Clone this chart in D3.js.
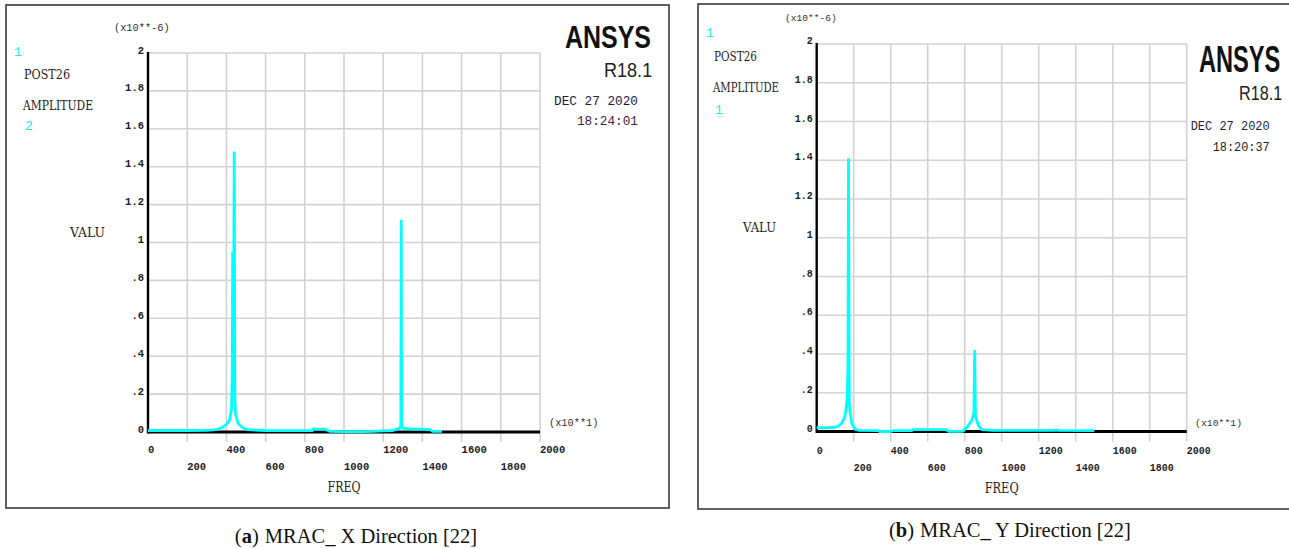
<!DOCTYPE html>
<html>
<head>
<meta charset="utf-8">
<script src="https://cdn.jsdelivr.net/npm/d3@7"></script>
<style>
  body { margin: 0; background: #fff; }
  svg { display: block; }
</style>
</head>
<body>
<svg id="fig" width="1289" height="549"></svg>
<script>
// Frequency in units of 10 Hz (x10**1), amplitude in units of 1e-6 (x10**-6)
const freqTicks = [0, 200, 400, 600, 800, 1000, 1200, 1400, 1600, 1800, 2000];
const freqTickLabels = ["0", "200", "400", "600", "800", "1000", "1200", "1400", "1600", "1800", "2000"];
const ampTicks = [0, 0.2, 0.4, 0.6, 0.8, 1, 1.2, 1.4, 1.6, 1.8, 2];
const ampTickLabels = ["0", ".2", ".4", ".6", ".8", "1", "1.2", "1.4", "1.6", "1.8", "2"];

// MRAC X direction response
const freqX = [0, 100, 200, 300, 350, 380, 400, 415, 426, 430, 432, 436, 440, 443, 447, 460, 480, 505,
               600, 700, 800, 840, 845, 850, 900, 930, 1000, 1100, 1148, 1200, 1250, 1270, 1286, 1290,
               1292, 1294, 1298, 1350, 1400, 1440, 1450, 1500];
const ampX  = [0.008, 0.008, 0.008, 0.009, 0.012, 0.025, 0.04, 0.06, 0.12, 0.3, 0.95, 0.4, 1.48, 0.18, 0.09, 0.045, 0.025, 0.012,
               0.008, 0.007, 0.007, 0.008, 0.02, 0.015, 0.015, 0.003, 0.002, 0.002, 0.003, 0.006, 0.008, 0.015, 0.02, 0.04,
               1.12, 0.04, 0.02, 0.015, 0.015, 0.012, 0.004, 0.003];

// MRAC Y direction response
const freqY = [0, 50, 100, 120, 135, 150, 160, 166, 169, 172, 176, 180, 190, 207, 230, 330, 340, 400, 414,
               515, 520, 700, 711, 790, 818, 840, 850, 854, 858, 874, 892, 950, 1290, 1294, 1298, 1500];
const ampY  = [0.02, 0.02, 0.022, 0.03, 0.042, 0.07, 0.12, 0.2, 0.35, 1.41, 0.15, 0.1, 0.042, 0.011, 0.006, 0.005, 0.0, 0.0, 0.004,
               0.005, 0.01, 0.01, 0.001, 0.001, 0.03, 0.06, 0.1, 0.42, 0.08, 0.03, 0.01, 0.006, 0.006, 0.012, 0.006, 0.005];

const CYAN = "#00ffff";
const MONO = "'Liberation Mono', 'DejaVu Sans Mono', monospace";
const SLAB = "'DejaVu Serif', 'Liberation Serif', serif";
const SANS = "'Liberation Sans', Arial, sans-serif";
const SERIF = "'Liberation Serif', 'Times New Roman', serif";

const panels = [
  {
    freq: freqX, amp: ampX,
    frame: { x: 6, y: 5, w: 663, h: 503 },
    plot: { left: 148, right: 540, top: 53, bottom: 432 },
    tickSize: 10.5, row1: 450, row2: 467,
    texts: [
      { t: "(x10**-6)", x: 114, y: 28, s: 10.3, f: MONO, c: "#333" },
      { t: "1", x: 14, y: 52, s: 13, f: MONO, c: "#33e6e6" },
      { t: "POST26", x: 24, y: 74, s: 12.5, f: SLAB, c: "#222", len: 46 },
      { t: "AMPLITUDE", x: 23, y: 105, s: 12.5, f: SLAB, c: "#222", len: 70 },
      { t: "2", x: 25, y: 126, s: 13, f: MONO, c: "#33e6e6" },
      { t: "VALU", x: 70, y: 232, s: 13, f: SLAB, c: "#222", len: 35 },
      { t: "FREQ", x: 344, y: 487, s: 14, f: SLAB, c: "#222", anchor: "middle", len: 33 },
      { t: "(x10**1)", x: 549, y: 423, s: 10.3, f: MONO, c: "#333" },
      { t: "DEC 27 2020", x: 554, y: 102, s: 12.5, f: MONO, c: "#1c1c44", len: 84 },
      { t: "18:24:01", x: 577, y: 122, s: 12.5, f: MONO, c: "#4a1c3c", len: 61 }
    ],
    logo: { x: 565, base: 48, size: 32, sx: 0.78 },
    rel: { x: 604, base: 77, size: 21, sx: 0.86 },
    caption: { x: 356, y: 543, letter: "(a)", rest: "MRAC_ X Direction [22]" }
  },
  {
    freq: freqY, amp: ampY,
    frame: { x: 698, y: 4, w: 592, h: 505 },
    plot: { left: 816.7, right: 1186.7, top: 44, bottom: 431.5 },
    tickSize: 10, row1: 451, row2: 468,
    texts: [
      { t: "(x10**-6)", x: 785, y: 18, s: 9.6, f: MONO, c: "#333" },
      { t: "1", x: 706, y: 33, s: 13, f: MONO, c: "#33e6e6" },
      { t: "POST26", x: 714, y: 57, s: 12, f: SLAB, c: "#222", len: 43 },
      { t: "AMPLITUDE", x: 713, y: 88, s: 12, f: SLAB, c: "#222", len: 66 },
      { t: "1", x: 715, y: 110, s: 13, f: MONO, c: "#33e6e6" },
      { t: "VALU", x: 743, y: 227, s: 12.5, f: SLAB, c: "#222", len: 33 },
      { t: "FREQ", x: 1001.7, y: 488, s: 14, f: SLAB, c: "#222", anchor: "middle", len: 34 },
      { t: "(x10**1)", x: 1195, y: 423, s: 9.8, f: MONO, c: "#333" },
      { t: "DEC 27 2020", x: 1190.7, y: 127, s: 12, f: MONO, c: "#1c1c44", len: 79 },
      { t: "18:20:37", x: 1212.7, y: 148, s: 12, f: MONO, c: "#222", len: 57 }
    ],
    logo: { x: 1199, base: 72, size: 37.5, sx: 0.63 },
    rel: { x: 1239, base: 100, size: 21, sx: 0.77 },
    caption: { x: 1010, y: 537, letter: "(b)", rest: "MRAC_ Y Direction [22]" }
  }
];

const svg = d3.select("#fig");
svg.append("rect").attr("width", 1289).attr("height", 549).attr("fill", "#fff");

panels.forEach(p => {
  const g = svg.append("g");

  // panel frame
  g.append("rect")
    .attr("x", p.frame.x).attr("y", p.frame.y)
    .attr("width", p.frame.w).attr("height", p.frame.h)
    .attr("fill", "#fff").attr("stroke", "#3a3a3a").attr("stroke-width", 1.6);

  const x = d3.scaleLinear().domain([0, 2000]).range([p.plot.left, p.plot.right]);
  const y = d3.scaleLinear().domain([0, 2]).range([p.plot.bottom, p.plot.top]);

  // grid
  g.append("g").selectAll("line").data(freqTicks.slice(1)).join("line")
    .attr("x1", d => x(d)).attr("x2", d => x(d))
    .attr("y1", p.plot.top).attr("y2", p.plot.bottom + 10)
    .attr("stroke", "#d2d2d2").attr("stroke-width", 1.6);
  g.append("g").selectAll("line").data(ampTicks.slice(1)).join("line")
    .attr("x1", p.plot.left).attr("x2", p.plot.right)
    .attr("y1", d => y(d)).attr("y2", d => y(d))
    .attr("stroke", "#d2d2d2").attr("stroke-width", 1.6);

  // axes
  g.append("line")
    .attr("x1", p.plot.left).attr("x2", x(2000))
    .attr("y1", y(0)).attr("y2", y(0))
    .attr("stroke", "#000").attr("stroke-width", 3);
  g.append("line")
    .attr("x1", p.plot.left).attr("x2", p.plot.left)
    .attr("y1", y(2) - 1).attr("y2", y(0) + 1.5)
    .attr("stroke", "#000").attr("stroke-width", 2.4);

  // amplitude labels
  g.append("g").selectAll("text").data(ampTicks).join("text")
    .attr("x", p.plot.left - 4)
    .attr("y", d => y(d) - 2.5)
    .attr("text-anchor", "end")
    .attr("dominant-baseline", "central")
    .attr("font-family", MONO).attr("font-weight", "bold")
    .attr("font-size", p.tickSize).attr("fill", "#1e1e1e")
    .text((d, i) => ampTickLabels[i]);

  // frequency labels, staggered on two rows, left-aligned on the tick
  g.append("g").selectAll("text").data(freqTicks).join("text")
    .attr("x", d => x(d))
    .attr("y", (d, i) => i % 2 === 0 ? p.row1 : p.row2)
    .attr("text-anchor", "start")
    .attr("dominant-baseline", "central")
    .attr("font-family", MONO).attr("font-weight", "bold")
    .attr("font-size", p.tickSize).attr("fill", "#1e1e1e")
    .text((d, i) => freqTickLabels[i]);

  // response curve
  const pts = p.freq.map((f, i) => [f, p.amp[i]]);
  g.append("path")
    .datum(pts)
    .attr("d", d3.line().x(d => x(d[0])).y(d => y(d[1])))
    .attr("fill", "none").attr("stroke", CYAN)
    .attr("stroke-width", 2.8).attr("stroke-linejoin", "bevel");

  // annotation texts
  p.texts.forEach(t => {
    const el = g.append("text")
      .attr("x", t.x).attr("y", t.y)
      .attr("dominant-baseline", "central")
      .attr("text-anchor", t.anchor || "start")
      .attr("font-family", t.f).attr("font-size", t.s)
      .attr("fill", t.c)
      .text(t.t);
    if (t.len) el.attr("textLength", t.len).attr("lengthAdjust", "spacingAndGlyphs");
  });

  // product logo (condensed by a horizontal scale)
  g.append("text")
    .attr("transform", `translate(${p.logo.x},${p.logo.base}) scale(${p.logo.sx},1)`)
    .attr("font-family", SANS).attr("font-weight", "bold")
    .attr("font-size", p.logo.size).attr("fill", "#111")
    .text("ANSYS");
  g.append("text")
    .attr("transform", `translate(${p.rel.x},${p.rel.base}) scale(${p.rel.sx},1)`)
    .attr("font-family", SANS)
    .attr("font-size", p.rel.size).attr("fill", "#222")
    .text("R18.1");

  // caption below the panel
  const cap = svg.append("text")
    .attr("x", p.caption.x).attr("y", p.caption.y)
    .attr("text-anchor", "middle")
    .attr("font-family", SERIF).attr("font-size", 20.5).attr("fill", "#111");
  cap.append("tspan").text("(");
  cap.append("tspan").attr("font-weight", "bold").text(p.caption.letter.slice(1, 2));
  cap.append("tspan").text(")");
  cap.append("tspan").attr("dx", 6).text(p.caption.rest);
});
</script>
</body>
</html>
